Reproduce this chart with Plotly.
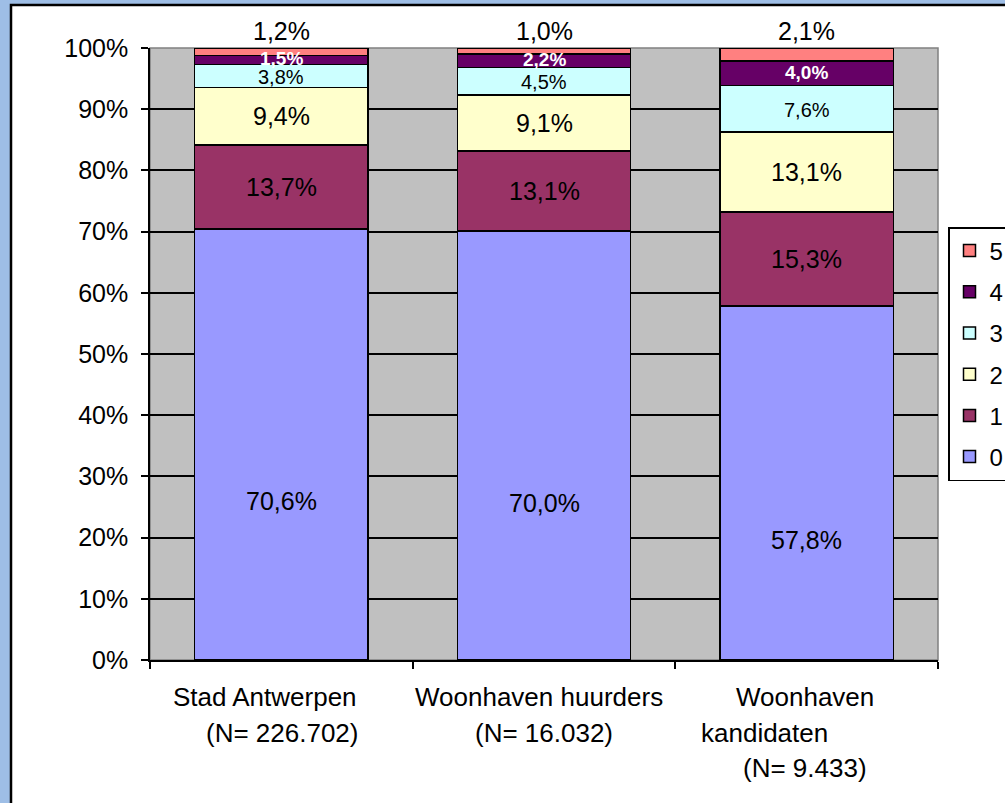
import plotly.graph_objects as go

# Household shares per number of ... (0-5) for three populations
categories = ["Stad Antwerpen", "Woonhaven huurders", "Woonhaven kandidaten"]
category_lines = [
    ["Stad Antwerpen", "(N= 226.702)"],
    ["Woonhaven huurders", "(N= 16.032)"],
    ["Woonhaven", "kandidaten", "(N= 9.433)"],
]
series_names = ["0", "1", "2", "3", "4", "5"]
share_0 = [70.6, 70.0, 57.8]
share_1 = [13.7, 13.1, 15.3]
share_2 = [9.4, 9.1, 13.1]
share_3 = [3.8, 4.5, 7.6]
share_4 = [1.5, 2.2, 4.0]
share_5 = [1.2, 1.0, 2.1]
series_values = [share_0, share_1, share_2, share_3, share_4, share_5]

colors = ["#9999ff", "#993366", "#ffffcc", "#ccffff", "#660066", "#ff8080"]
y_ticks = list(range(0, 101, 10))
y_tick_text = [f"{v}%" for v in y_ticks]

FONT = "Arial, Liberation Sans, sans-serif"
W, H = 1005, 803
L, R, T, B = 150, 67, 48, 143  # plot area: x 150..938, y 48..660
PW, PH = W - L - R, H - T - B


def fmt(v):
    return f"{v:.1f}".replace(".", ",") + "%"


fig = go.Figure()
for i, (name, vals, col) in enumerate(zip(series_names, series_values, colors)):
    fig.add_trace(go.Bar(
        x=categories, y=vals, name=name, legendgroup=name,
        legendrank=100 - i,
        marker=dict(color=col, line=dict(color="black", width=1.5)),
        hoverinfo="skip",
    ))

# segment labels, positioned on the normalised stack
label_style = {
    0: dict(size=25, color="black", bold=False, yshift=-57),
    1: dict(size=25, color="black", bold=False, yshift=0),
    2: dict(size=25, color="black", bold=False, yshift=0),
    3: dict(size=20, color="black", bold=False, yshift=-1),
    4: dict(size=19, color="white", bold=True, yshift=1),
}
annotations = []
for ci, cat in enumerate(categories):
    total = sum(s[ci] for s in series_values)
    base = 0.0
    for si, vals in enumerate(series_values):
        h = vals[ci] / total * 100
        if si in label_style:
            st = label_style[si]
            txt = fmt(vals[ci])
            if st["bold"]:
                txt = f"<b>{txt}</b>"
            annotations.append(dict(
                x=cat, y=base + h / 2, xref="x", yref="y", text=txt,
                showarrow=False, yshift=st["yshift"],
                font=dict(family=FONT, size=st["size"], color=st["color"]),
            ))
        else:
            # top segment value written above the bar
            annotations.append(dict(
                x=cat, y=100, xref="x", yref="y", text=fmt(vals[ci]),
                showarrow=False, yanchor="middle", yshift=17,
                font=dict(family=FONT, size=25, color="black"),
            ))
        base += h

# category labels below the axis, one annotation per line
line_shift_x = [[-16, 1], [-5, 0], [-2, -42, -2]]
line_shift_y = [-37, -73, -108]
for cat, lines, shifts in zip(categories, category_lines, line_shift_x):
    for li, (txt, dx) in enumerate(zip(lines, shifts)):
        annotations.append(dict(
            x=cat, y=0, xref="x", yref="paper", text=txt, showarrow=False,
            xshift=dx, yshift=line_shift_y[li], yanchor="middle",
            font=dict(family=FONT, size=26, color="black"),
        ))

# white chart panel with black frame on the blue page
px_x = lambda px: (px - L) / PW
px_y = lambda py: (H - B - py) / PH
shapes = [
    dict(type="rect", xref="paper", yref="paper", layer="below",
         x0=px_x(11), x1=px_x(W + 20), y0=px_y(H + 20), y1=px_y(5),
         fillcolor="white", line=dict(color="black", width=2.5)),
    dict(type="rect", xref="paper", yref="paper", layer="below",
         x0=0, x1=1, y0=0, y1=1, fillcolor="#c0c0c0",
         line=dict(color="#808080", width=1.5)),
]

fig.update_layout(
    width=W, height=H,
    margin=dict(l=L, r=R, t=T, b=B, autoexpand=False),
    paper_bgcolor="#9ebee6",
    plot_bgcolor="rgba(0,0,0,0)",
    barmode="stack", barnorm="percent", bargap=0.34,
    font=dict(family=FONT, size=24, color="black"),
    showlegend=True,
    legend=dict(
        x=px_x(948), y=px_y(227), xanchor="left", yanchor="top",
        traceorder="grouped", tracegroupgap=7,
        bgcolor="white", bordercolor="black", borderwidth=1.5,
        font=dict(family=FONT, size=24, color="black"),
        itemwidth=30,
    ),
    xaxis=dict(
        type="category", showline=True, linecolor="black", linewidth=1.5,
        ticks="outside", tickson="boundaries", ticklen=7, tickcolor="black",
        tickwidth=1.5, showticklabels=False, showgrid=False, zeroline=False,
    ),
    yaxis=dict(
        range=[0, 100], tickmode="array", tickvals=y_ticks, ticktext=y_tick_text,
        showline=True, linecolor="black", linewidth=1.5,
        ticks="outside", ticklen=7, tickcolor="black", tickwidth=1.5,
        showgrid=True, gridcolor="black", gridwidth=1.5, zeroline=False,
        ticklabelstandoff=8,
        tickfont=dict(family=FONT, size=25, color="black"),
    ),
    annotations=annotations,
    shapes=shapes,
)

fig.write_html("out.html")
